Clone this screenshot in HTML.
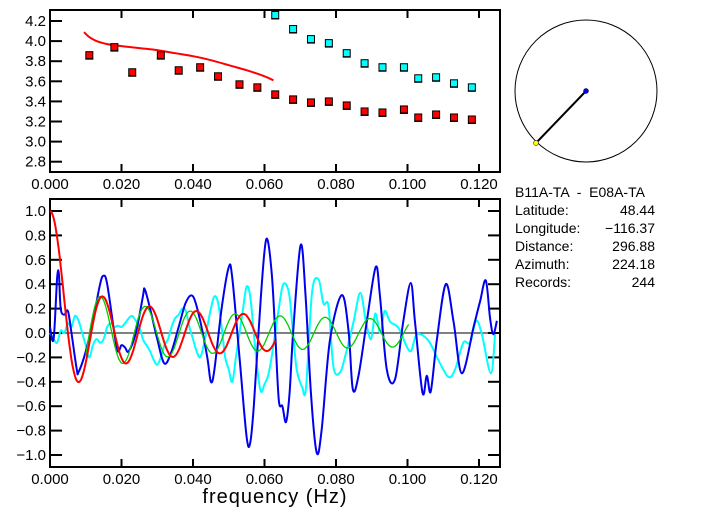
<!DOCTYPE html>
<html><head><meta charset="utf-8"><style>
body{margin:0;background:#fff;width:702px;height:519px;overflow:hidden}
svg text{font-family:"Liberation Sans",sans-serif;fill:#000}
</style></head><body>
<svg id="s" width="702" height="519" viewBox="0 0 702 519" xmlns="http://www.w3.org/2000/svg"></svg>
<script>
const S=document.getElementById('s');let h='';
const X=f=>50+f*3575;
const YT=v=>21+(4.2-v)/0.2*20.1;
const YB=v=>333-v*122;
h+='<rect x="50" y="10" width="450" height="162" fill="none" stroke="#000" stroke-width="2"/>';
h+='<rect x="50" y="199" width="450" height="268" fill="none" stroke="#000" stroke-width="2"/>';
for(let i=0;i<=6;i++){const x=X(i*0.02);const l=(i*0.02).toFixed(3);
 h+=`<line x1="${x}" y1="10" x2="${x}" y2="18" stroke="#000" stroke-width="2"/><line x1="${x}" y1="172" x2="${x}" y2="164" stroke="#000" stroke-width="2"/>`;
 h+=`<line x1="${x}" y1="199" x2="${x}" y2="207" stroke="#000" stroke-width="2"/><line x1="${x}" y1="467" x2="${x}" y2="459" stroke="#000" stroke-width="2"/>`;
 h+=`<text x="${x}" y="189" font-size="15" text-anchor="middle">${l}</text><text x="${x}" y="484" font-size="15" text-anchor="middle">${l}</text>`;}
for(let v=2.8;v<=4.21;v+=0.2){const y=YT(v);h+=`<line x1="50" y1="${y}" x2="62" y2="${y}" stroke="#000" stroke-width="2"/><text x="46" y="${y+5}" font-size="15" text-anchor="end">${v.toFixed(1)}</text>`;}
for(let k=-5;k<=5;k++){const v=k*0.2,y=YB(v);h+=`<line x1="50" y1="${y}" x2="62" y2="${y}" stroke="#000" stroke-width="2"/><line x1="500" y1="${y}" x2="488" y2="${y}" stroke="#000" stroke-width="2"/><text x="46" y="${y+5}" font-size="15" text-anchor="end">${(k<0?'\u2212':'')+Math.abs(v).toFixed(1)}</text>`;}
h+='<line x1="50" y1="333" x2="500" y2="333" stroke="#000" stroke-width="1"/>';
const pl=(pts,fx,fy,c,w)=>`<polyline fill="none" stroke="${c}" stroke-width="${w}" points="${pts.map(p=>fx(p[0]).toFixed(1)+','+fy(p[1]).toFixed(1)).join(' ')}"/>`;
function sm(pts,fx,fy,c,w){const P=pts.map(p=>[fx(p[0]),fy(p[1])]);let d=`M${P[0][0].toFixed(1)},${P[0][1].toFixed(1)}`;
 for(let i=0;i<P.length-1;i++){const p0=P[Math.max(0,i-1)],p1=P[i],p2=P[i+1],p3=P[Math.min(P.length-1,i+2)];
  const c1=[p1[0]+(p2[0]-p0[0])/6,p1[1]+(p2[1]-p0[1])/6],c2=[p2[0]-(p3[0]-p1[0])/6,p2[1]-(p3[1]-p1[1])/6];
  d+=`C${c1[0].toFixed(1)},${c1[1].toFixed(1)} ${c2[0].toFixed(1)},${c2[1].toFixed(1)} ${p2[0].toFixed(1)},${p2[1].toFixed(1)}`;}
 return `<path d="${d}" fill="none" stroke="${c}" stroke-width="${w}" stroke-linejoin="round"/>`;}
h+=sm([[.0095,4.09],[.011,4.04],[.013,4.0],[.016,3.97],[.02,3.95],[.025,3.93],[.03,3.91],[.035,3.88],[.04,3.85],[.045,3.81],[.05,3.76],[.055,3.71],[.06,3.65],[.0625,3.61]],X,YT,'#f00',2);
const red=[[.011,3.86],[.018,3.94],[.023,3.69],[.031,3.86],[.036,3.71],[.042,3.74],[.047,3.65],[.053,3.57],[.058,3.54],[.063,3.47],[.068,3.42],[.073,3.39],[.078,3.40],[.083,3.36],[.088,3.30],[.093,3.29],[.099,3.32],[.103,3.24],[.108,3.27],[.113,3.24],[.118,3.22]];
const cy=[[.063,4.26],[.068,4.12],[.073,4.02],[.078,3.98],[.083,3.88],[.088,3.78],[.093,3.74],[.099,3.74],[.103,3.63],[.108,3.64],[.113,3.58],[.118,3.54]];
const sq=(p,c)=>{const x=X(p[0]),y=YT(p[1]);return `<line x1="${x-4}" y1="${y+4}" x2="${x+4}" y2="${y+4}" stroke="#000"/><rect x="${x-3.5}" y="${y-3.5}" width="7" height="7" fill="${c}" stroke="#000" stroke-width="1"/>`;};
red.forEach(p=>h+=sq(p,'#f00'));cy.forEach(p=>h+=sq(p,'#0ff'));
function J0(x){let s=0,t=1;for(let k=0;k<40;k++){s+=t;t*=-(x*x/4)/((k+1)*(k+1));}return s;}
function J0b(x){if(x<12)return J0(x);return Math.sqrt(2/(Math.PI*x))*Math.cos(x-Math.PI/4);}
let g=[],r=[];
for(let f=0.01;f<=0.1005;f+=0.0003)g.push([f,J0b(f*500)]);
for(let f=0;f<=0.0632;f+=0.0003)r.push([f,J0b(f*479)]);
const cyan=[[0,0],[.001,-.05],[.002,-.08],[.003,.02],[.004,0],[.005,.08],[.006,.05],[.007,.14],[.008,.1],[.009,0],[.010,-.1],[.011,-.2],[.012,-.1],[.013,-.05],[.014,-.08],[.015,-.05],[.016,.05],[.017,.08],[.018,.05],[.019,.06],[.020,.05],[.021,.08],[.022,.12],[.023,.14],[.024,.1],[.025,.05],[.026,-.05],[.027,-.1],[.028,-.15],[.029,-.22],[.030,-.26],[.031,-.2],[.032,-.1],[.033,-.05],[.034,.05],[.035,.12],[.036,.15],[.037,.2],[.038,.18],[.039,.05],[.040,-.05],[.041,-.15],[.042,-.2],[.043,-.1],[.044,.05],[.045,.2],[.046,.3],[.047,.25],[.048,.05],[.049,-.2],[.050,-.3],[.051,-.4],[.052,-.2],[.053,0],[.054,.2],[.055,.38],[.056,.3],[.057,0],[.058,-.3],[.059,-.48],[.060,-.42],[.061,-.35],[.062,-.2],[.063,0],[.064,.2],[.065,.38],[.066,.4],[.067,.3],[.068,0],[.069,-.3],[.0705,-.44],[.0716,-.45],[.0733,.33],[.0751,.44],[.0765,.24],[.0779,.22],[.0793,-.28],[.0812,-.32],[.083,-.14],[.0849,.09],[.0868,.33],[.0884,.09],[.0898,-.05],[.091,.16],[.0924,0],[.0936,.18],[.0952,.09],[.0975,.04],[.1007,-.15],[.1026,-.01],[.1058,-.06],[.1086,-.22],[.1114,-.36],[.1133,-.3],[.1156,-.08],[.1175,-.08],[.1192,.1],[.1208,-.01],[.1233,-.33],[.1245,-.01]];
const blue=[[0,.05],[.001,-.05],[.002,.45],[.0025,.48],[.003,.2],[.004,.15],[.005,.18],[.006,0],[.0075,-.3],[.008,-.32],[.010,-.15],[.012,.1],[.014,.4],[.015,.47],[.016,.4],[.018,0],[.019,-.15],[.020,-.1],[.021,-.12],[.022,-.15],[.024,0],[.026,.3],[.0265,.36],[.028,.2],[.030,-.05],[.032,-.25],[.034,-.15],[.036,.05],[.038,.25],[.040,.3],[.042,.1],[.044,-.2],[.045,-.4],[.046,-.3],[.048,.2],[.050,.54],[.051,.45],[.053,-.2],[.055,-.85],[.056,-.9],[.057,-.6],[.059,.3],[.0605,.77],[.062,.5],[.063,0],[.064,-.55],[.065,-.6],[.066,-.73],[.067,-.5],[.068,0],[.0701,.72],[.0715,.3],[.073,-.5],[.0746,-.98],[.076,-.79],[.0783,-.06],[.0816,.31],[.0835,.02],[.0847,-.46],[.0863,-.35],[.0886,.09],[.0911,.54],[.0923,.3],[.0942,-.3],[.0965,-.38],[.0988,.09],[.1009,.41],[.1021,.09],[.1042,-.49],[.1054,-.35],[.1065,-.48],[.1082,-.06],[.1107,.4],[.1129,.09],[.1152,-.33],[.1185,.05],[.1203,.26],[.1219,.43],[.1231,.12],[.124,-.01],[.125,.1]];
h+=sm(cyan,X,YB,'#0ff',2);
h+=sm(blue,X,YB,'#0000ee',2);
h+=pl(g,X,YB,'#0c0',1.3);
h+=pl(r,X,YB,'#f00',2);
h+='<circle cx="586" cy="91" r="71" fill="none" stroke="#000" stroke-width="1"/><line x1="586" y1="91" x2="536" y2="143" stroke="#000" stroke-width="2"/><circle cx="586" cy="91" r="2.5" fill="#00f" stroke="#000" stroke-width=".5"/><circle cx="536" cy="143" r="2.5" fill="#ff0" stroke="#000" stroke-width=".5"/>';
const info=[['B11A-TA  -  E08A-TA',''],['Latitude:','48.44'],['Longitude:','\u2212116.37'],['Distance:','296.88'],['Azimuth:','224.18'],['Records:','244']];
info.forEach((t,i)=>{const y=197+i*18;h+=`<text x="515" y="${y}" font-size="14" xml:space="preserve">${t[0]}</text>`;if(t[1])h+=`<text x="655" y="${y}" font-size="14" text-anchor="end">${t[1]}</text>`;});
h+='<text x="275" y="503" font-size="20" text-anchor="middle" letter-spacing="1">frequency (Hz)</text>';
S.innerHTML=h;
</script>
</body></html>
